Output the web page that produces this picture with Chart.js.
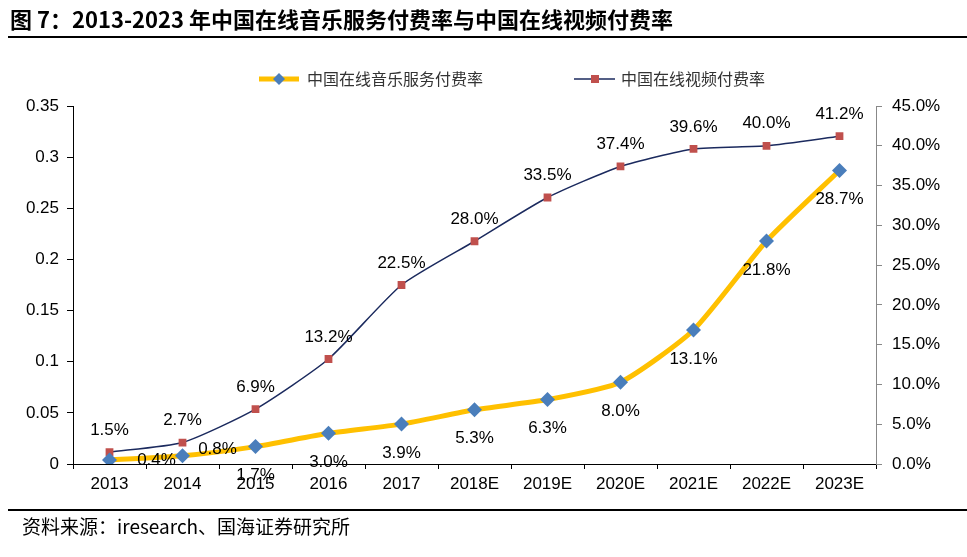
<!DOCTYPE html>
<html>
<head>
<meta charset="utf-8">
<script src="https://cdn.jsdelivr.net/npm/chart.js@4"></script>
<style>
  html, body { margin: 0; padding: 0; background: #fff; }
  #wrap { width: 967px; height: 557px; position: relative; }
</style>
</head>
<body>
<div id="wrap"><canvas id="c" width="967" height="557"></canvas></div>
<script>
// Categories and series
const years = ['2013', '2014', '2015', '2016', '2017', '2018E', '2019E', '2020E', '2021E', '2022E', '2023E'];
const musicRate = [0.004, 0.008, 0.017, 0.030, 0.039, 0.053, 0.063, 0.080, 0.131, 0.218, 0.287];   // left axis
const videoRate = [1.5, 2.7, 6.9, 13.2, 22.5, 28.0, 33.5, 37.4, 39.6, 40.0, 41.2];                 // right axis, %
const leftTicks = ['0', '0.05', '0.1', '0.15', '0.2', '0.25', '0.3', '0.35'];
const musicName = '中国在线音乐服务付费率';
const videoName = '中国在线视频付费率';
const titleText = '图 7：2013-2023 年中国在线音乐服务付费率与中国在线视频付费率';
const sourceText = '资料来源：iresearch、国海证券研究所';

const LATIN = '"Liberation Sans", Arial, sans-serif';
const CJK = '"Noto Sans CJK SC", "Liberation Sans", sans-serif';

const YELLOW = '#FFC000';
const BLUE = '#4A7EBB';
const NAVY = '#1B2A5E';
const RED = '#C0504D';

// Title, rules, legend, footnote and point labels
const decor = {
  id: 'decor',
  afterDraw(chart) {
    const ctx = chart.ctx;
    ctx.save();
    // title
    ctx.fillStyle = '#000';
    ctx.font = 'bold 22px ' + CJK;
    ctx.textBaseline = 'middle';
    ctx.textAlign = 'left';
    ctx.fillText(titleText, 10, 20);
    // rules
    ctx.fillRect(8, 36, 959, 2);
    ctx.fillRect(8, 509, 959, 2);
    // footnote
    ctx.font = '19px ' + CJK;
    ctx.fillText(sourceText, 22, 527);

    // legend
    ctx.font = '16px ' + CJK;
    ctx.strokeStyle = YELLOW;
    ctx.lineWidth = 5;
    ctx.beginPath(); ctx.moveTo(259, 79); ctx.lineTo(299, 79); ctx.stroke();
    ctx.fillStyle = BLUE;
    ctx.beginPath(); ctx.moveTo(279, 73); ctx.lineTo(285, 79); ctx.lineTo(279, 85); ctx.lineTo(273, 79); ctx.closePath(); ctx.fill();
    ctx.fillStyle = '#333';
    ctx.fillText(musicName, 307, 79);
    ctx.strokeStyle = NAVY;
    ctx.lineWidth = 1.5;
    ctx.beginPath(); ctx.moveTo(574, 79); ctx.lineTo(615, 79); ctx.stroke();
    ctx.fillStyle = RED;
    ctx.fillRect(591, 75, 8, 8);
    ctx.fillStyle = '#333';
    ctx.fillText(videoName, 621, 79);

    // point labels
    ctx.font = '17px ' + LATIN;
    ctx.fillStyle = '#000';
    ctx.textAlign = 'center';
    const m = chart.getDatasetMeta(0).data;
    m.forEach((p, i) => {
      let dx = 0, dy = 29;
      if (i === 0) { dx = 47; dy = 0; }
      if (i === 1) { dx = 35; dy = -7; }
      ctx.fillText((musicRate[i] * 100).toFixed(1) + '%', p.x + dx, p.y + dy);
    });
    const v = chart.getDatasetMeta(1).data;
    v.forEach((p, i) => {
      ctx.fillText(videoRate[i].toFixed(1) + '%', p.x, p.y - 22);
    });
    ctx.restore();
  }
};

new Chart(document.getElementById('c'), {
  type: 'line',
  data: {
    labels: years,
    datasets: [
      {
        label: musicName,
        data: musicRate,
        yAxisID: 'y',
        borderColor: YELLOW,
        borderWidth: 5,
        pointStyle: 'rectRot',
        pointRadius: 7.5,
        pointBackgroundColor: BLUE,
        pointBorderColor: BLUE,
        pointBorderWidth: 0,
        tension: 0.2,
        order: 1
      },
      {
        label: videoName,
        data: videoRate,
        yAxisID: 'y1',
        borderColor: NAVY,
        borderWidth: 1.5,
        pointStyle: 'rect',
        pointRadius: 5.5,
        pointBackgroundColor: RED,
        pointBorderColor: RED,
        pointBorderWidth: 0,
        tension: 0.2,
        order: 2
      }
    ]
  },
  options: {
    responsive: false,
    animation: false,
    devicePixelRatio: 1,
    layout: { padding: { top: 106, left: 0, right: 0, bottom: 0 } },
    plugins: { legend: { display: false }, tooltip: { enabled: false } },
    scales: {
      x: {
        offset: true,
        grid: { offset: true, drawOnChartArea: false, tickLength: 5, color: '#000' },
        border: { color: '#000', width: 1 },
        ticks: { color: '#000', font: { family: LATIN, size: 17 }, padding: 5, maxRotation: 0 },
        afterFit(s) { s.height = 93; }
      },
      y: {
        position: 'left',
        min: 0, max: 0.35,
        grid: { drawOnChartArea: false, tickLength: 6, color: '#000' },
        border: { color: '#000', width: 1 },
        ticks: {
          stepSize: 0.05, color: '#000', font: { family: LATIN, size: 17 }, padding: 8,
          callback: (val, i) => leftTicks[i]
        },
        afterFit(s) { s.width = 73; }
      },
      y1: {
        position: 'right',
        min: 0, max: 45,
        grid: { drawOnChartArea: false, tickLength: 6, color: '#888' },
        border: { color: '#888', width: 1 },
        ticks: {
          stepSize: 5, color: '#000', font: { family: LATIN, size: 17 }, padding: 10,
          callback: (val) => val.toFixed(1) + '%'
        },
        afterFit(s) { s.width = 91; }
      }
    }
  },
  plugins: [decor]
});
</script>
</body>
</html>
